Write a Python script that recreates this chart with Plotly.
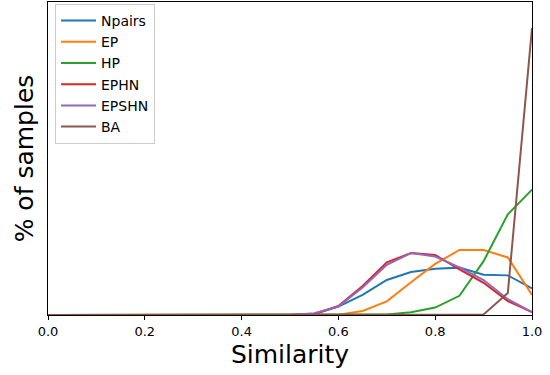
import plotly.graph_objects as go

x_sim = [0.0, 0.05, 0.1, 0.15, 0.2, 0.25, 0.3, 0.35, 0.4, 0.45, 0.5,
         0.55, 0.6, 0.65, 0.7, 0.75, 0.8, 0.85, 0.9, 0.95, 1.0]

npairs = [0, 0, 0, 0, 0, 0, 0, 0, 0, 0, 0.0,
          0.3, 2.7, 6.5, 11.3, 13.9, 14.9, 15.3, 13.0, 12.8, 8.6]
ep = [0, 0, 0, 0, 0, 0, 0, 0, 0, 0, 0,
      0, 0.1, 1.3, 4.4, 10.6, 16.5, 21.0, 21.0, 18.6, 6.5]
hp = [0, 0, 0, 0, 0, 0, 0, 0, 0, 0, 0,
      0, 0, 0.0, 0.2, 0.9, 2.4, 6.2, 17.4, 32.5, 40.5]
ephn = [0, 0, 0, 0, 0, 0, 0, 0, 0, 0, 0.0,
        0.3, 2.9, 9.4, 17.0, 20.0, 19.4, 14.7, 10.4, 4.5, 0.9]
epshn = [0, 0, 0, 0, 0, 0, 0, 0, 0, 0, 0.0,
         0.6, 2.7, 8.9, 16.2, 20.0, 18.9, 15.4, 11.3, 5.1, 0.9]
ba = [0, 0, 0, 0, 0, 0, 0, 0, 0, 0, 0,
      0, 0, 0, 0, 0, 0, 0, 0.2, 7.1, 92.7]

series_names = ["Npairs", "EP", "HP", "EPHN", "EPSHN", "BA"]
series_values = [npairs, ep, hp, ephn, epshn, ba]
colors = ["#1f77b4", "#ff7f0e", "#2ca02c", "#d62728", "#9467bd", "#8c564b"]

tick_vals = [0.0, 0.2, 0.4, 0.6, 0.8, 1.0]
tick_text = ["0.0", "0.2", "0.4", "0.6", "0.8", "1.0"]

fig = go.Figure()
for name, vals, c in zip(series_names, series_values, colors):
    fig.add_trace(go.Scatter(x=x_sim, y=vals, mode="lines", name=name,
                             line=dict(color=c, width=2)))

fig.update_layout(
    width=550, height=375,
    margin=dict(l=48, r=18, t=2, b=60, autoexpand=False),
    paper_bgcolor="white", plot_bgcolor="white",
    font=dict(family="DejaVu Sans", color="black"),
    showlegend=True,
    legend=dict(x=0.0145, y=0.9936, xanchor="left", yanchor="top",
                bgcolor="rgba(255,255,255,0.8)", bordercolor="#cccccc",
                borderwidth=1, itemwidth=35,
                font=dict(size=14, family="DejaVu Sans")),
    xaxis=dict(range=[0, 1], tickvals=tick_vals, ticktext=tick_text,
               ticks="outside", ticklen=4, tickwidth=1, tickcolor="black",
               tickfont=dict(size=13), showgrid=False, zeroline=False,
               showline=True, linecolor="black", linewidth=1, mirror=True,
               automargin=False,
               title=dict(text="Similarity", font=dict(size=25), standoff=7)),
    yaxis=dict(range=[0, 101.1], showticklabels=False, ticks="",
               showgrid=False, zeroline=False, showline=True,
               linecolor="black", linewidth=1, mirror=True,
               automargin=False,
               title=dict(text="% of samples", font=dict(size=25), standoff=6)),
)

fig.write_html("out.html", config={"displayModeBar": False},
               post_script="document.body.style.margin='0';")
